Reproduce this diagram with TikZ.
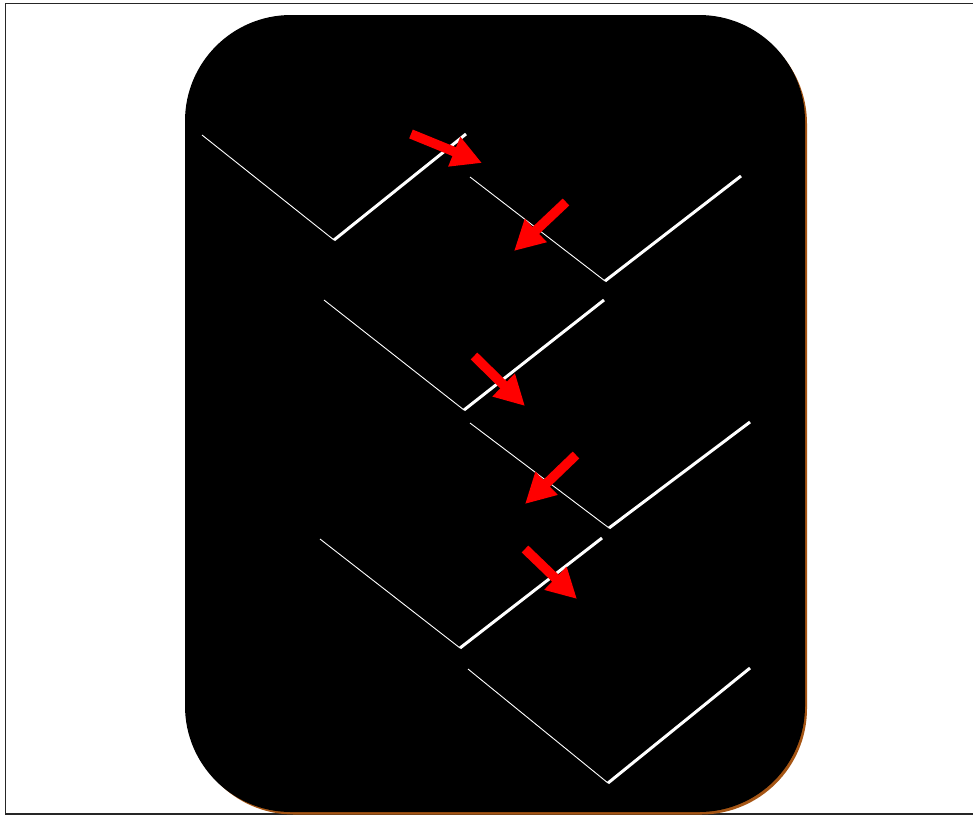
\documentclass[tikz,border=0pt]{standalone}
\usetikzlibrary{arrows.meta}
\definecolor{shadowbrown}{RGB}{165,85,20}
\begin{document}
\begin{tikzpicture}[x=1pt,y=-1pt,
  thinarm/.style={white,line width=0.9pt},
  thickarm/.style={white,line width=3pt},
  redarrow/.style={red,line width=9.5pt,-{Triangle[length=30pt,width=30pt]}}]
\useasboundingbox (0,0) rectangle (973,815);
\fill[white] (0,0) rectangle (973,815);
\draw[black!85,line width=1.6pt] (5.5,3.5) rectangle (980,814);
% shadow and panel
\fill[shadowbrown,rounded corners=106pt] (188,18) rectangle (807,814.5);
\fill[black,rounded corners=106pt] (185,15) rectangle (805,812);
% coordinates
\coordinate (a1) at (202,135); \coordinate (b1) at (334,240); \coordinate (c1) at (466,134);
\coordinate (a2) at (470,177); \coordinate (b2) at (605,281); \coordinate (c2) at (741,176);
\coordinate (a3) at (324,300); \coordinate (b3) at (464,410); \coordinate (c3) at (604,300);
\coordinate (a4) at (470,423); \coordinate (b4) at (609,528); \coordinate (c4) at (750,422);
\coordinate (a5) at (320,539); \coordinate (b5) at (460,648); \coordinate (c5) at (602,538);
\coordinate (a6) at (468,669); \coordinate (b6) at (608,783); \coordinate (c6) at (750,668);
\foreach \i in {1,...,6}{
  \draw[thinarm] (a\i) -- (b\i);
  \draw[thickarm] (b\i) -- (c\i);
}
% arrows
\coordinate (s1) at (411,134); \coordinate (t1) at (482,163);
\coordinate (s2) at (566,202); \coordinate (t2) at (514,251);
\coordinate (s3) at (474,356); \coordinate (t3) at (525,406);
\coordinate (s4) at (576,455); \coordinate (t4) at (525,504);
\coordinate (s5) at (525,549); \coordinate (t5) at (577,599);
\foreach \i in {1,...,5}{
  \draw[redarrow] (s\i) -- (t\i);
}
\end{tikzpicture}
\end{document}
